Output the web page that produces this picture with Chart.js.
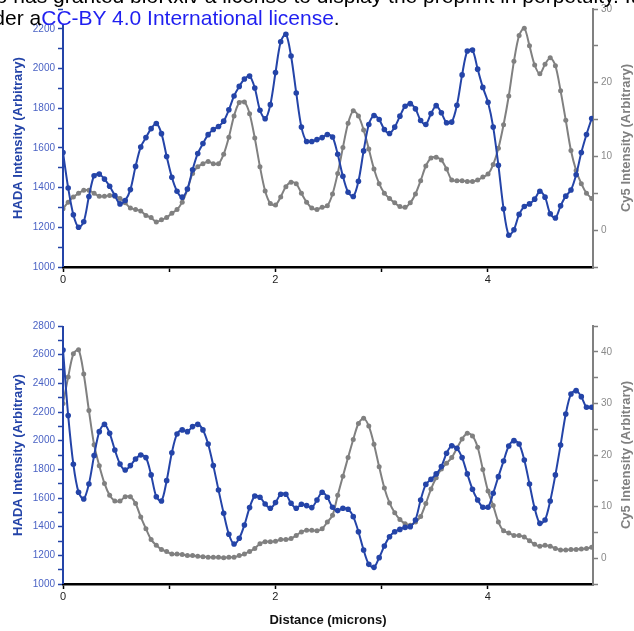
<!DOCTYPE html>
<html lang="en">
<head>
  <meta charset="UTF-8">
  <title>HADA / Cy5 intensity profiles</title>
  <script src="https://cdn.jsdelivr.net/npm/chart.js"></script>
  <style>
    html, body { margin: 0; padding: 0; background: #fff; }
    body { width: 634px; height: 631px; overflow: hidden; position: relative; font-family: 'Liberation Sans', Arial, sans-serif; }
    .note { position: absolute; white-space: nowrap; font-size: 21px; line-height: 21px; color: #000; z-index: 2; }
    .note span { color: #1f1ff0; }
    canvas { position: absolute; left: 0; }
  </style>
</head>
<body>
  <div class="note" style="left:-31px; top:-15px;">who has granted bioRxiv a license to display the preprint in perpetuity. It is made available un</div>
  <div class="note" style="left:-30px; top:7px;">under a<span>CC-BY 4.0 International license</span>.</div>

  <canvas id="profileTop" width="634" height="300" style="top:0"></canvas>
  <canvas id="profileBottom" width="634" height="331" style="top:300px"></canvas>

  <script>
    // sampling step along the line profile (microns per pixel)
    const STEP = 0.0488;

    const hadaTop = [
      1577, 1398, 1263, 1200, 1228, 1355, 1460, 1468, 1443, 1407,
      1360, 1318, 1335, 1390, 1507, 1605, 1652, 1697, 1723, 1672,
      1557, 1452, 1382, 1352, 1393, 1490, 1572, 1622, 1667, 1693,
      1708, 1735, 1792, 1862, 1910, 1947, 1962, 1902, 1790, 1747,
      1818, 1980, 2135, 2173, 2063, 1877, 1705, 1632, 1632, 1642,
      1652, 1668, 1655, 1568, 1457, 1377, 1355, 1432, 1585, 1718,
      1763, 1743, 1693, 1673, 1705, 1760, 1810, 1823, 1797, 1738,
      1718, 1773, 1813, 1777, 1727, 1730, 1815, 1968, 2088, 2093,
      1997, 1905, 1830, 1705, 1513, 1293, 1160, 1188, 1265, 1305,
      1318, 1342, 1382, 1352, 1268, 1247, 1308, 1357, 1388, 1465,
      1577, 1668, 1748
    ];
    const cy5Top = [
      2.9, 3.8, 4.5, 5.0, 5.4, 5.4, 5.0, 4.6, 4.6, 4.7,
      4.6, 4.3, 3.7, 3.0, 2.8, 2.6, 2.0, 1.7, 1.1, 1.4,
      1.7, 2.3, 2.8, 3.8, 5.5, 7.7, 8.6, 9.0, 9.3, 9.0,
      9.0, 10.3, 12.6, 15.5, 17.3, 17.4, 15.8, 12.5, 8.6, 5.3,
      3.6, 3.4, 4.5, 5.9, 6.5, 6.3, 5.0, 3.8, 3.0, 2.8,
      3.1, 3.3, 4.9, 7.7, 11.2, 14.5, 16.2, 15.5, 13.6, 11.0,
      8.3, 6.3, 5.0, 4.3, 3.7, 3.2, 3.1, 3.7, 4.9, 6.7,
      8.7, 9.8, 9.9, 9.5, 8.3, 6.8, 6.7, 6.7, 6.6, 6.6,
      6.8, 7.2, 7.6, 8.9, 11.1, 14.3, 18.2, 22.9, 26.4, 27.4,
      25.0, 22.4, 21.2, 22.5, 23.4, 22.3, 18.9, 14.9, 10.8, 8.1,
      6.3, 5.0, 4.3
    ];

    const hadaBottom = [
      2633, 2175, 1835, 1640, 1593, 1698, 1896, 2063, 2114, 2051,
      1935, 1837, 1795, 1826, 1872, 1900, 1882, 1761, 1609, 1579,
      1721, 1916, 2047, 2075, 2063, 2098, 2114, 2075, 1977, 1826,
      1656, 1493, 1347, 1279, 1319, 1412, 1533, 1614, 1605, 1558,
      1528, 1568, 1626, 1626, 1563, 1528, 1556, 1547, 1533, 1586,
      1640, 1605, 1535, 1512, 1528, 1521, 1470, 1365, 1237, 1137,
      1116, 1184, 1265, 1330, 1365, 1381, 1395, 1400, 1447, 1586,
      1695, 1730, 1768, 1819, 1912, 1965, 1947, 1882, 1768, 1661,
      1586, 1535, 1535, 1633, 1749, 1858, 1963, 2000, 1977, 1865,
      1698, 1528, 1423, 1447, 1579, 1761, 1970, 2186, 2326, 2349,
      2307, 2233, 2233
    ];
    const cy5Bottom = [
      30.0, 35.1, 39.6, 40.4, 35.7, 28.6, 22.0, 17.9, 14.5, 12.2,
      11.1, 11.1, 11.9, 11.9, 10.6, 8.0, 5.7, 3.6, 2.5, 1.7,
      1.3, 0.8, 0.8, 0.7, 0.5, 0.5, 0.4, 0.3, 0.2, 0.2,
      0.2, 0.1, 0.2, 0.2, 0.5, 0.8, 1.3, 1.9, 2.8, 3.2,
      3.2, 3.3, 3.6, 3.6, 3.8, 4.4, 5.1, 5.4, 5.4, 5.3,
      5.7, 7.0, 8.3, 12.2, 15.9, 19.5, 23.0, 26.1, 27.1, 25.6,
      22.1, 17.7, 13.6, 10.7, 8.8, 7.5, 6.7, 6.4, 7.0, 8.1,
      10.6, 13.4, 15.6, 17.3, 18.4, 19.5, 21.3, 23.1, 24.2, 23.7,
      21.5, 17.2, 13.0, 10.2, 7.0, 5.3, 4.9, 4.4, 4.4, 4.1,
      3.4, 2.7, 2.3, 2.5, 2.3, 1.9, 1.6, 1.6, 1.7, 1.7,
      1.8, 1.9, 2.1
    ];

    const distance = hadaTop.map((_, i) => +(i * STEP).toFixed(4));

    const BLUE = '#2444a8';
    const BLUE_TEXT = '#4a62c4';
    const GREY = '#808080';
    const GREY_TEXT = '#8a8a8a';
    const FONT = "'Liberation Sans', Arial, sans-serif";

    Chart.defaults.font.family = FONT;

    // label every other tick; round first so float noise doesn't hide labels
    const every = n => v => (Math.round(v) % n === 0 ? Math.round(v) : '');

    // Cy5 title reads bottom-to-top on the right, and the HADA axis line stops at its top tick
    const axisExtras = {
      id: 'axisExtras',
      afterDraw(chart, args, opts) {
        const { ctx, chartArea, scales } = chart;
        ctx.save();
        ctx.strokeStyle = BLUE;
        ctx.lineWidth = 2;
        ctx.beginPath();
        ctx.moveTo(chartArea.left, scales.y.getPixelForValue(opts.hadaLineTop));
        ctx.lineTo(chartArea.left, chartArea.bottom);
        ctx.stroke();

        ctx.translate(opts.titleX, (chartArea.top + chartArea.bottom) / 2);
        ctx.rotate(-Math.PI / 2);
        ctx.font = 'bold 13px ' + FONT;
        ctx.fillStyle = GREY;
        ctx.textAlign = 'center';
        ctx.textBaseline = 'middle';
        ctx.fillText('Cy5 Intensity (Arbitrary)', 0, 0);
        ctx.restore();
      }
    };

    function points(values) {
      return values.map((v, i) => ({ x: distance[i], y: v }));
    }

    function makeProfile(id, hada, cy5, o) {
      return new Chart(document.getElementById(id), {
        type: 'line',
        data: {
          datasets: [
            { label: 'HADA', data: points(hada), yAxisID: 'y', borderColor: BLUE, backgroundColor: BLUE,
              borderWidth: 2, pointRadius: 2.8, pointBorderWidth: 0, tension: 0.3 },
            { label: 'Cy5', data: points(cy5), yAxisID: 'y1', borderColor: GREY, backgroundColor: GREY,
              borderWidth: 2, pointRadius: 2.5, pointBorderWidth: 0, tension: 0.3 }
          ]
        },
        options: {
          responsive: false,
          animation: false,
          layout: { padding: { top: o.top, left: 0, right: 0, bottom: 0 } },
          plugins: {
            legend: { display: false },
            tooltip: { enabled: false },
            axisExtras: { titleX: 626, hadaLineTop: o.hadaLineTop }
          },
          scales: {
            x: {
              type: 'linear', min: 0, max: 4.99,
              ticks: { stepSize: 1, includeBounds: false, autoSkip: false, maxRotation: 0, color: '#222',
                       font: { size: 11 }, padding: 1, callback: every(2) },
              grid: { drawOnChartArea: false, color: '#000', tickLength: 5, tickWidth: 1.5 },
              border: { color: '#000', width: 2.5 },
              title: { display: o.xTitle, text: 'Distance (microns)', color: '#111',
                       font: { size: 13, weight: 'bold' }, padding: { top: 0, bottom: 3 } },
              afterFit: s => { s.height = o.xHeight; }
            },
            y: {
              position: 'left', min: o.hadaMin, max: o.hadaMax,
              ticks: { stepSize: 100, includeBounds: false, autoSkip: false, color: BLUE_TEXT,
                       font: { size: 10 }, padding: 3, callback: every(200) },
              grid: { drawOnChartArea: false, color: BLUE, tickLength: 5, tickWidth: 1.5 },
              border: { display: false },
              title: { display: true, text: 'HADA Intensity (Arbitrary)', color: BLUE,
                       font: { size: 13, weight: 'bold' }, padding: { top: 11, bottom: 0 } },
              afterFit: s => { s.width = 63; }
            },
            y1: {
              position: 'right', min: o.cy5Min, max: o.cy5Max,
              ticks: { stepSize: 5, includeBounds: false, autoSkip: false, color: GREY_TEXT,
                       font: { size: 10 }, padding: 3, callback: every(10) },
              grid: { drawOnChartArea: false, color: GREY, tickLength: 5, tickWidth: 1.5 },
              border: { color: GREY, width: 2 },
              afterFit: s => { s.width = 41; }
            }
          }
        },
        plugins: [axisExtras]
      });
    }

    makeProfile('profileTop', hadaTop, cy5Top,
      { top: 7, xHeight: 33, xTitle: false, hadaMin: 1000, hadaMax: 2300, hadaLineTop: 2220,
        cy5Min: -5, cy5Max: 30 });
    makeProfile('profileBottom', hadaBottom, cy5Bottom,
      { top: 26, xHeight: 47, xTitle: true, hadaMin: 1000, hadaMax: 2800, hadaLineTop: 2800,
        cy5Min: -5, cy5Max: 45 });
  </script>
</body>
</html>
